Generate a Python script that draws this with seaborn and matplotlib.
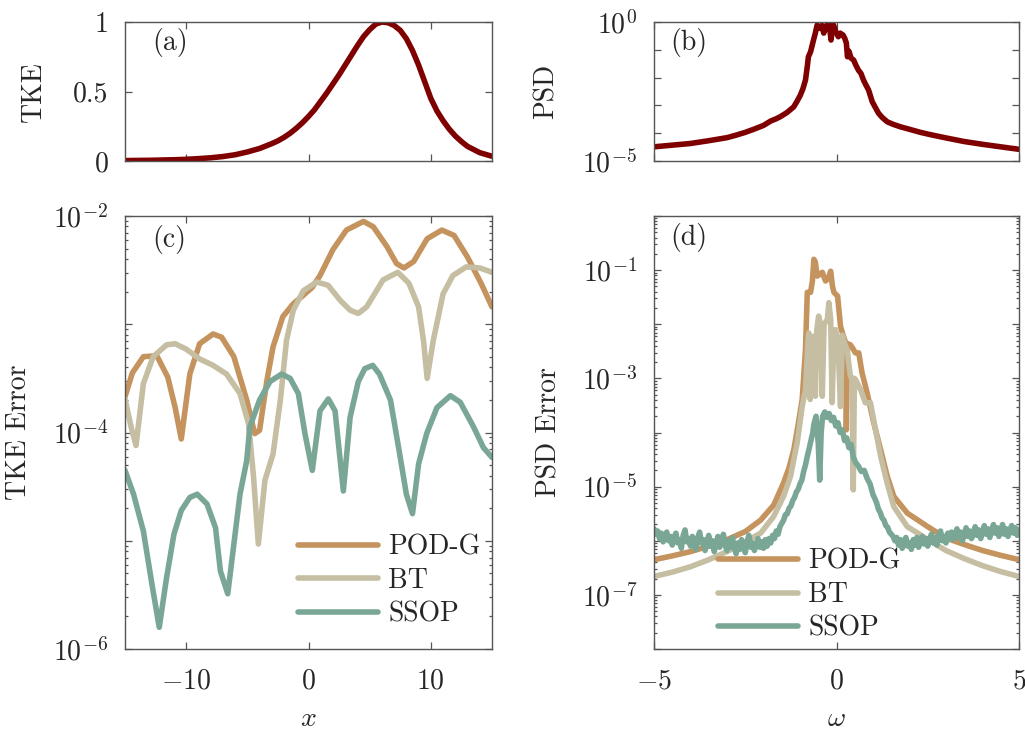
import numpy as np
import pandas as pd
import matplotlib
matplotlib.use('Agg')
import matplotlib.pyplot as plt
import matplotlib.ticker as mticker
import seaborn as sns

# === Data ===
# (a) TKE vs x
x_tke = [-15, -14, -13, -12, -11, -10, -9, -8, -7, -6, -5, -4, -3, -2.5, -2, -1.5,
         -1, -0.5, 0, 0.5, 1, 1.5, 2, 2.5, 3, 3.5, 4, 4.5, 5, 5.5, 6, 6.5, 7,
         7.5, 8, 8.5, 9, 9.5, 10, 10.5, 11, 11.5, 12, 12.5, 13, 14, 15]
tke = [0.003, 0.004, 0.005, 0.007, 0.009, 0.012, 0.017, 0.023, 0.032, 0.045,
       0.065, 0.09, 0.125, 0.145, 0.17, 0.2, 0.235, 0.275, 0.32, 0.37, 0.43,
       0.49, 0.555, 0.62, 0.69, 0.76, 0.83, 0.895, 0.945, 0.985, 1.0, 0.995,
       0.975, 0.94, 0.88, 0.795, 0.69, 0.57, 0.45, 0.36, 0.29, 0.23, 0.18,
       0.14, 0.105, 0.06, 0.034]

# (b) PSD vs omega (log10 values)
w_psd = [-5, -4.5, -4, -3.5, -3, -2.75, -2.5, -2.25, -2.0, -1.8, -1.65, -1.53,
         -1.35, -1.17, -1.08, -0.99, -0.92, -0.85, -0.8, -0.77, -0.71, -0.63,
         -0.58, -0.53, -0.49, -0.44, -0.4, -0.35, -0.28, -0.22, -0.18, -0.15,
         -0.11, -0.08, -0.02, 0.05, 0.1, 0.18, 0.23, 0.27, 0.3, 0.34, 0.4, 0.47,
         0.53, 0.6, 0.67, 0.74, 0.8, 0.88, 0.98, 1.15, 1.25, 1.39, 1.55, 1.75,
         2.0, 2.3, 2.6, 3, 3.5, 4, 4.5, 5]
psd_exp = [-4.49, -4.43, -4.37, -4.27, -4.16, -4.07, -3.97, -3.85, -3.72, -3.56,
           -3.48, -3.40, -3.25, -3.05, -2.85, -2.63, -2.40, -2.09, -1.60, -1.25,
           -1.07, -0.65, -0.40, -0.11, -0.20, -0.23, -0.12, -0.40, -0.15, 0.0,
           -0.30, -0.65, -0.20, -0.11, -0.35, -0.53, -0.40, -0.47, -0.60, -0.76,
           -1.25, -1.05, -1.30, -1.37, -1.55, -1.73, -1.85, -2.09, -2.25, -2.45,
           -2.87, -3.28, -3.43, -3.59, -3.68, -3.77, -3.86, -3.97, -4.06, -4.17,
           -4.30, -4.40, -4.49, -4.58]

# (c) TKE error vs x (log10 values)
x_podg = [-15, -14.4, -13.5, -12.4, -11.5, -10.9, -10.4, -9.7, -8.9, -7.8, -7.1,
          -6.1, -5.05, -4.4, -4.0, -3.4, -2.9, -2.1, -1.24, -0.5, 0.3, 0.94, 2.0,
          3.1, 4.5, 5.3, 6.4, 7.2, 7.8, 8.6, 9.7, 10.9, 11.9, 13.0, 14.1, 15]
tke_err_podg = [-3.67, -3.45, -3.30, -3.29, -3.49, -3.77, -4.06, -3.46, -3.18,
                -3.09, -3.12, -3.30, -3.70, -4.01, -3.98, -3.52, -3.21, -2.93,
                -2.81, -2.74, -2.66, -2.55, -2.31, -2.13, -2.05, -2.10, -2.28,
                -2.44, -2.48, -2.42, -2.21, -2.13, -2.18, -2.38, -2.62, -2.84]
x_bt = [-15, -14.5, -14.1, -13.5, -12.7, -11.6, -10.9, -10, -8.9, -7.8, -6.7,
        -5.6, -4.9, -4.5, -4.1, -3.56, -2.9, -2.3, -1.8, -1.24, -0.42, 0.67, 1.6,
        2.6, 3.4, 4.07, 4.75, 6.1, 7.3, 8.2, 9.0, 9.4, 9.7, 10.2, 11.0, 11.8,
        12.9, 14.0, 15]
tke_err_bt = [-3.69, -3.95, -4.12, -3.55, -3.30, -3.19, -3.18, -3.23, -3.32,
              -3.38, -3.46, -3.64, -3.92, -4.4, -5.03, -4.44, -4.2, -3.70, -3.15,
              -2.87, -2.69, -2.61, -2.64, -2.78, -2.87, -2.90, -2.84, -2.59,
              -2.52, -2.62, -2.84, -3.15, -3.50, -3.15, -2.72, -2.55, -2.47,
              -2.48, -2.52]
x_ssop = [-15, -14.3, -13.5, -12.8, -12.2, -11.6, -11.0, -10.4, -9.7, -9.1, -8.3,
          -7.6, -7.2, -6.6, -6.1, -5.6, -5.05, -4.8, -4.0, -3.15, -2.2, -1.5,
          -0.83, -0.29, 0.31, 0.94, 1.62, 2.17, 2.85, 3.4, 4.07, 4.6, 5.25, 5.8,
          6.7, 7.5, 8.0, 8.5, 9.0, 9.66, 10.5, 11.6, 12.4, 13.5, 14.3, 15]
tke_err_ssop = [-4.35, -4.57, -4.91, -5.40, -5.80, -5.34, -4.94, -4.72, -4.60,
                -4.57, -4.66, -4.88, -5.28, -5.49, -5.03, -4.57, -4.26, -3.95,
                -3.70, -3.53, -3.46, -3.50, -3.64, -4.01, -4.35, -3.80, -3.69,
                -3.80, -4.54, -3.86, -3.53, -3.41, -3.38, -3.46, -3.70, -4.23,
                -4.57, -4.75, -4.29, -4.01, -3.77, -3.66, -3.72, -3.95, -4.14,
                -4.23]

# (d) PSD error vs omega (log10 values)
w_podg = [-5, -4.5, -4, -3.5, -3, -2.5, -2.08, -1.72, -1.45, -1.3, -1.17, -1.05,
          -0.94, -0.85, -0.8, -0.71, -0.66, -0.62, -0.58, -0.53, -0.46, -0.39,
          -0.3, -0.22, -0.16, -0.11, -0.07, 0.03, 0.11, 0.18, 0.25, 0.27, 0.3,
          0.38, 0.45, 0.52, 0.61, 0.7, 0.84, 1.02, 1.21, 1.39, 1.57, 1.94, 2.3,
          2.5, 3, 3.5, 4, 4.5, 5]
psd_err_podg = [-6.35, -6.28, -6.20, -6.10, -5.98, -5.83, -5.62, -5.34, -4.93,
                -4.65, -4.32, -3.85, -3.39, -2.47, -1.41, -1.41, -1.2, -0.80,
                -0.85, -1.11, -1.08, -1.04, -1.20, -1.15, -1.02, -1.30, -1.41,
                -1.48, -2.04, -2.2, -2.34, -3.95, -2.36, -2.38, -2.45, -2.53,
                -2.53, -2.90, -3.27, -3.82, -4.32, -4.81, -5.18, -5.49, -5.65,
                -5.74, -5.95, -6.07, -6.18, -6.27, -6.35]
w_bt = [-5, -4.5, -4, -3.5, -3, -2.5, -2.08, -1.72, -1.45, -1.26, -1.08, -0.94,
        -0.85, -0.78, -0.76, -0.72, -0.67, -0.62, -0.58, -0.54, -0.49, -0.44,
        -0.39, -0.34, -0.25, -0.21, -0.16, -0.12, -0.07, -0.03, 0.04, 0.11, 0.16,
        0.22, 0.29, 0.38, 0.43, 0.46, 0.49, 0.52, 0.66, 0.79, 0.93, 1.07, 1.21,
        1.39, 1.57, 1.94, 2.3, 2.5, 3, 3.5, 4, 4.5, 5]
psd_err_bt = [-6.66, -6.58, -6.48, -6.35, -6.20, -6.02, -5.86, -5.55, -5.18,
              -4.81, -4.20, -3.52, -3.21, -2.3, -2.16, -3.39, -2.4, -2.22, -3.33,
              -2.1, -1.85, -2.0, -3.33, -2.0, -1.91, -1.60, -1.9, -3.45, -2.2,
              -2.10, -2.3, -3.52, -2.2, -2.35, -2.47, -2.96, -3.0, -5.06, -3.0,
              -3.02, -3.21, -3.45, -3.45, -3.95, -4.44, -4.94, -5.37, -5.74,
              -5.89, -5.98, -6.18, -6.33, -6.46, -6.57, -6.66]
w_ssop = [-5.00, -4.95, -4.90, -4.85, -4.80, -4.75, -4.70, -4.65, -4.60, -4.55,
          -4.50, -4.45, -4.40, -4.35, -4.30, -4.25, -4.20, -4.15, -4.10, -4.05,
          -4.00, -3.95, -3.90, -3.85, -3.80, -3.75, -3.70, -3.65, -3.60, -3.55,
          -3.50, -3.45, -3.40, -3.35, -3.30, -3.25, -3.20, -3.15, -3.10, -3.05,
          -3.00, -2.95, -2.90, -2.85, -2.80, -2.75, -2.70, -2.65, -2.60, -2.55,
          -2.50, -2.45, -2.40, -2.35, -2.30, -2.25, -2.20, -2.15, -2.10, -2.05,
          -2.00, -1.95, -1.90, -1.85, -1.80, -1.75, -1.70, -1.65, -1.60, -1.55,
          -1.50, -1.45, -1.40, -1.35, -1.30, -1.25, -1.20, -1.15, -1.10, -1.05,
          -1.00, -0.95, -0.90, -0.85, -0.80, -0.75, -0.70, -0.65, -0.62, -0.56,
          -0.50, -0.46, -0.42, -0.38, -0.32, -0.26, -0.20, -0.14, -0.08, -0.02,
          0.04, 0.10, 0.16, 0.22, 0.28, 0.34, 0.40, 0.46, 0.52, 0.60, 0.68, 0.76,
          0.84, 0.92, 1.00, 1.05, 1.10, 1.15, 1.20, 1.25, 1.30, 1.35, 1.40, 1.45,
          1.50, 1.55, 1.60, 1.65, 1.70, 1.75, 1.80, 1.85, 1.90, 1.95, 2.00, 2.05,
          2.10, 2.15, 2.20, 2.25, 2.30, 2.35, 2.40, 2.45, 2.50, 2.55, 2.60, 2.65,
          2.70, 2.75, 2.80, 2.85, 2.90, 2.95, 3.00, 3.05, 3.10, 3.15, 3.20, 3.25,
          3.30, 3.35, 3.40, 3.45, 3.50, 3.55, 3.60, 3.65, 3.70, 3.75, 3.80, 3.85,
          3.90, 3.95, 4.00, 4.05, 4.10, 4.15, 4.20, 4.25, 4.30, 4.35, 4.40, 4.45,
          4.50, 4.55, 4.60, 4.65, 4.70, 4.75, 4.80, 4.85, 4.90, 4.95, 5.00]
psd_err_ssop = [-5.78, -5.88, -5.82, -5.96, -5.86, -6.02, -5.90, -5.84, -6.00,
                -5.92, -6.08, -5.94, -5.86, -6.04, -5.98, -6.14, -5.90, -5.80,
                -6.02, -5.96, -6.10, -5.92, -6.06, -6.16, -5.94, -5.84, -6.04,
                -5.98, -6.18, -6.02, -5.90, -6.10, -6.00, -6.20, -6.06, -5.92,
                -6.12, -6.04, -5.88, -6.08, -6.18, -6.00, -6.12, -5.94, -6.14,
                -6.24, -6.04, -6.16, -5.98, -6.10, -6.22, -6.02, -5.90, -6.12,
                -6.04, -6.18, -6.08, -5.96, -6.12, -6.02, -6.14, -5.98, -6.10,
                -5.96, -6.04, -5.90, -5.96, -5.82, -5.88, -5.74, -5.68, -5.62,
                -5.52, -5.50, -5.40, -5.36, -5.26, -5.20, -5.10, -5.05, -4.95,
                -4.88, -4.72, -4.60, -4.44, -4.30, -4.15, -4.00, -3.85, -3.70,
                -4.20, -4.88, -4.00, -3.70, -3.62, -3.72, -3.65, -3.78, -3.72,
                -3.88, -3.82, -4.00, -3.95, -4.15, -4.10, -4.28, -4.22, -4.45,
                -4.55, -4.62, -4.72, -4.70, -4.85, -4.95, -5.15, -5.22, -5.30,
                -5.42, -5.48, -5.58, -5.62, -5.72, -5.75, -5.84, -5.88, -5.92,
                -6.00, -5.94, -6.08, -5.98, -6.14, -6.02, -5.94, -6.10, -6.04,
                -6.16, -5.98, -6.08, -5.94, -6.12, -6.02, -5.92, -6.06, -5.96,
                -6.10, -5.98, -5.88, -6.04, -5.94, -6.08, -5.90, -5.82, -6.00,
                -5.92, -6.04, -5.86, -5.96, -5.84, -5.98, -5.90, -5.78, -5.94,
                -5.84, -6.00, -5.88, -5.76, -5.92, -5.82, -5.96, -5.86, -5.74,
                -5.90, -5.80, -5.96, -5.84, -5.72, -5.88, -5.78, -5.94, -5.82,
                -5.70, -5.86, -5.76, -5.92, -5.80, -5.70, -5.88, -5.78, -5.92,
                -5.80, -5.72, -5.86, -5.76, -5.90, -5.80]

# === Style ===
sns.set_theme(style='ticks')
plt.rcParams['font.family'] = 'serif'
plt.rcParams['font.serif'] = ['cmr10']
plt.rcParams['mathtext.fontset'] = 'cm'
plt.rcParams['axes.formatter.use_mathtext'] = True
plt.rcParams['axes.unicode_minus'] = False
plt.rcParams['font.size'] = 20
plt.rcParams['axes.labelsize'] = 20
text_col = '#262626'
spine_col = '#555555'

c_dark = '#7f0000'
c_podg = '#c4935e'
c_bt = '#c5bea2'
c_ssop = '#7aa795'
lw = 4.0

fig = plt.figure(figsize=(10.25, 7.36), dpi=100)
W, H = 1025, 736
def box(l, t, r, b):
    return [l / W, 1 - b / H, (r - l) / W, (b - t) / H]

ax_a = fig.add_axes(box(125, 22, 492, 161))
ax_b = fig.add_axes(box(654, 22, 1019, 161))
ax_c = fig.add_axes(box(125, 216, 492, 649))
ax_d = fig.add_axes(box(654, 216, 1019, 649))

def style(ax):
    ax.tick_params(which='both', direction='in', top=True, right=True,
                   colors=spine_col, labelcolor=text_col, labelsize=20,
                   width=0.9)
    ax.tick_params(which='major', length=5)
    ax.tick_params(which='minor', length=2.5)
    ax.tick_params(axis='y', pad=12)
    ax.tick_params(axis='x', pad=14)
    for s in ax.spines.values():
        s.set_color(spine_col)
        s.set_linewidth(1.0)

def log_labels(keep):
    def f(v, pos):
        e = int(round(np.log10(v)))
        return r'$10^{%d}$' % e if e in keep else ''
    return mticker.FuncFormatter(f)

# (a)
sns.lineplot(x=x_tke, y=tke, ax=ax_a, color=c_dark, lw=lw, estimator=None)
ax_a.set_xlim(-15, 15)
ax_a.set_ylim(0, 1)
ax_a.set_xticks([-10, 0, 10])
ax_a.set_xticklabels([])
ax_a.set_yticks([0, 0.5, 1])
ax_a.set_yticklabels(['0', '0.5', '1'])
ax_a.set_ylabel('TKE', color=text_col)
style(ax_a)
ax_a.text(0.075, 0.85, '(a)', transform=ax_a.transAxes, va='center', color=text_col)

# (b)
sns.lineplot(x=w_psd, y=10.0 ** np.array(psd_exp), ax=ax_b, color=c_dark, lw=lw,
             estimator=None)
ax_b.set_yscale('log')
ax_b.set_xlim(-5, 5)
ax_b.set_ylim(1e-5, 1e0)
ax_b.set_xticks([-5, 0, 5])
ax_b.set_xticklabels([])
ax_b.yaxis.set_major_locator(mticker.LogLocator(base=10, numticks=20))
ax_b.yaxis.set_major_formatter(log_labels({0, -5}))
ax_b.yaxis.set_minor_locator(mticker.NullLocator())
ax_b.set_ylabel('PSD', color=text_col)
style(ax_b)
ax_b.text(0.044, 0.85, '(b)', transform=ax_b.transAxes, va='center', color=text_col)

# (c)
sns.lineplot(x=x_podg, y=10.0 ** np.array(tke_err_podg), ax=ax_c, color=c_podg,
             lw=lw, estimator=None, label='POD-G')
sns.lineplot(x=x_bt, y=10.0 ** np.array(tke_err_bt), ax=ax_c, color=c_bt,
             lw=lw, estimator=None, label='BT')
sns.lineplot(x=x_ssop, y=10.0 ** np.array(tke_err_ssop), ax=ax_c, color=c_ssop,
             lw=lw, estimator=None, label='SSOP')
ax_c.set_yscale('log')
ax_c.set_xlim(-15, 15)
ax_c.set_ylim(1e-6, 1e-2)
ax_c.set_xticks([-10, 0, 10])
ax_c.yaxis.set_major_locator(mticker.LogLocator(base=10, numticks=20))
ax_c.yaxis.set_major_formatter(log_labels({-2, -4, -6}))
ax_c.yaxis.set_minor_locator(mticker.LogLocator(base=10, subs=np.arange(2, 10), numticks=20))
ax_c.yaxis.set_minor_formatter(mticker.NullFormatter())
ax_c.set_xlabel(r'$x$', color=text_col, labelpad=8)
ax_c.set_ylabel('TKE Error', color=text_col)
style(ax_c)
ax_c.text(0.075, 0.945, '(c)', transform=ax_c.transAxes, va='center', color=text_col)
ax_c.legend(loc='upper left', bbox_to_anchor=(0.471, 0.265), frameon=False,
            fontsize=20, handlelength=2.9, handletextpad=0.35, labelspacing=0.26,
            borderpad=0, borderaxespad=0, labelcolor=text_col)

# (d)
sns.lineplot(x=w_podg, y=10.0 ** np.array(psd_err_podg), ax=ax_d, color=c_podg,
             lw=lw, estimator=None, label='POD-G')
sns.lineplot(x=w_bt, y=10.0 ** np.array(psd_err_bt), ax=ax_d, color=c_bt,
             lw=lw, estimator=None, label='BT')
sns.lineplot(x=w_ssop, y=10.0 ** np.array(psd_err_ssop), ax=ax_d, color=c_ssop,
             lw=lw, estimator=None, label='SSOP')
ax_d.set_yscale('log')
ax_d.set_xlim(-5, 5)
ax_d.set_ylim(1e-8, 1e0)
ax_d.set_xticks([-5, 0, 5])
ax_d.yaxis.set_major_locator(mticker.LogLocator(base=10, numticks=20))
ax_d.yaxis.set_major_formatter(log_labels({-1, -3, -5, -7}))
ax_d.yaxis.set_minor_locator(mticker.LogLocator(base=10, subs=np.arange(2, 10), numticks=20))
ax_d.yaxis.set_minor_formatter(mticker.NullFormatter())
ax_d.set_xlabel(r'$\omega$', color=text_col, labelpad=8)
ax_d.set_ylabel('PSD Error', color=text_col)
style(ax_d)
ax_d.text(0.044, 0.95, '(d)', transform=ax_d.transAxes, va='center', color=text_col)
ax_d.legend(loc='upper left', bbox_to_anchor=(0.175, 0.232), frameon=False,
            fontsize=20, handlelength=2.9, handletextpad=0.35, labelspacing=0.26,
            borderpad=0, borderaxespad=0, labelcolor=text_col)

ax_a.yaxis.set_label_coords(-0.213, 0.5)
ax_c.yaxis.set_label_coords(-0.253, 0.5)
ax_b.yaxis.set_label_coords(-0.258, 0.5)
ax_d.yaxis.set_label_coords(-0.252, 0.5)

fig.savefig('out.png', dpi=100)
